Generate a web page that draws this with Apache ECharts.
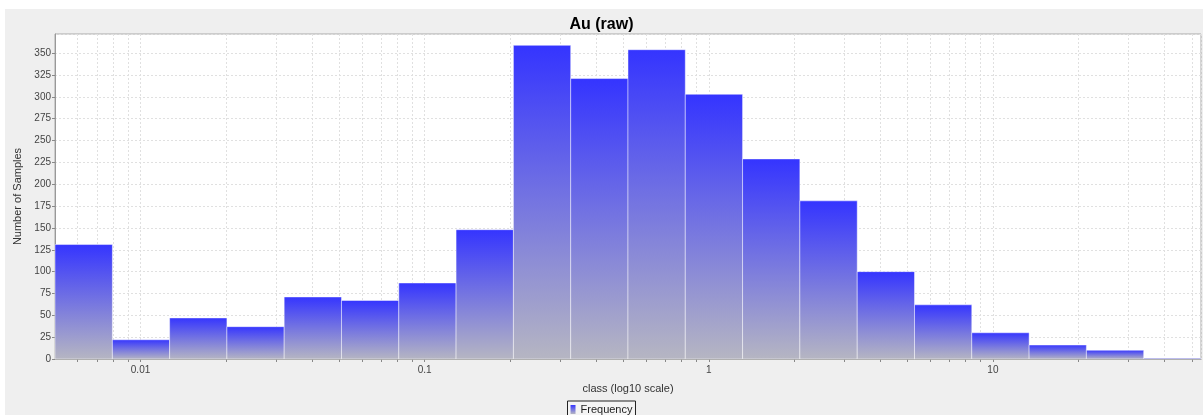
<!DOCTYPE html>
<html>
<head>
<meta charset="utf-8">
<script src="https://cdn.jsdelivr.net/npm/echarts@6/dist/echarts.min.js"></script>
<style>html,body{margin:0;padding:0;background:#fff}#c{width:1203px;height:415px}</style>
</head>
<body>
<div id="c"></div>
<script>
// Bin edges (log10-spaced classes)
const binEdges = [0.005, 0.00796, 0.01266, 0.02014, 0.03203, 0.05096, 0.0811, 0.129, 0.2053, 0.3266, 0.5196, 0.8266, 1.315, 2.092, 3.33, 5.297, 8.426, 13.41, 21.33, 33.94, 54.0];
// Frequency per bin
const counts = [131, 22, 47, 37, 71, 67, 87, 148, 359, 321, 354, 303, 229, 181, 100, 62, 30, 16, 10, 1];
// Minor tick positions on the log axis
const minorTicks = [0.006, 0.007, 0.008, 0.009, 0.02, 0.03, 0.04, 0.05, 0.06, 0.07, 0.08, 0.09, 0.2, 0.3, 0.4, 0.5, 0.6, 0.7, 0.8, 0.9, 2, 3, 4, 5, 6, 7, 8, 9, 20, 30, 40, 50];
const titleText = 'Au (raw)';
const xName = 'class (log10 scale)';
const yName = 'Number of Samples';
const seriesName = 'Frequency';

const barData = counts.map((c, i) => [binEdges[i], binEdges[i + 1], c]);
const font = '"Liberation Sans", Arial, sans-serif';

const chart = echarts.init(document.getElementById('c'), null, {renderer: 'canvas'});
const barGrad = () => new echarts.graphic.LinearGradient(0, 0, 0, 1, [
  {offset: 0, color: '#3434ff'},
  {offset: 1, color: '#b6b6c2'}
]);

chart.setOption({
  backgroundColor: '#ffffff',
  animation: false,
  graphic: [{type: 'rect', left: 5, top: 9, z: -10, shape: {width: 1198, height: 406}, style: {fill: '#efefef'}}],
  title: {
    text: titleText, left: 'center', top: 12,
    textStyle: {fontFamily: font, fontSize: 16, fontWeight: 'bold', color: '#000'}
  },
  legend: {
    data: [{name: seriesName, icon: 'rect'}], bottom: -6, left: 'center',
    itemWidth: 5, itemHeight: 9, itemGap: 4,
    borderColor: '#222', borderWidth: 1, padding: [3, 3, 6, 3],
    backgroundColor: '#f4f4f4',
    textStyle: {fontFamily: font, fontSize: 11, color: '#222'}
  },
  grid: {left: 55, right: 2, top: 34, bottom: 56, show: true, backgroundColor: '#fff', borderColor: '#a8a8a8', borderWidth: 1},
  xAxis: {
    type: 'log', logBase: 10, min: binEdges[0], max: binEdges[binEdges.length - 1],
    name: xName, nameLocation: 'middle', nameGap: 24,
    nameTextStyle: {fontFamily: font, fontSize: 11, color: '#333'},
    axisLine: {show: true, lineStyle: {color: '#999'}},
    axisTick: {show: true, length: 3, lineStyle: {color: '#888'}},
    axisLabel: {fontFamily: font, fontSize: 10, color: '#444', margin: 6, showMinLabel: false, showMaxLabel: false,
      formatter: v => String(+v.toPrecision(6))},
    splitLine: {show: true, lineStyle: {color: '#e0e0e0', type: [2, 2]}}
  },
  yAxis: {
    type: 'value', min: 0, max: 372, interval: 25,
    name: yName, nameLocation: 'middle', nameGap: 28, nameRotate: 90,
    nameTextStyle: {fontFamily: font, fontSize: 11, color: '#333'},
    axisLine: {show: true, lineStyle: {color: '#999'}},
    axisTick: {show: true, length: 3, lineStyle: {color: '#888'}},
    axisLabel: {fontFamily: font, fontSize: 10, color: '#444', margin: 4, showMaxLabel: false},
    splitLine: {show: true, lineStyle: {color: '#e0e0e0', type: [2, 2]}}
  },
  series: [
    {
      type: 'custom', name: 'minor', silent: true, z: 1, legendHoverLink: false,
      data: minorTicks.map(v => [v]),
      encode: {x: 0},
      clip: false,
      renderItem: (params, api) => {
        const x = Math.round(api.coord([api.value(0), 0])[0]) + 0.5;
        const cs = params.coordSys;
        return {type: 'group', children: [
          {type: 'line', shape: {x1: x, y1: cs.y, x2: x, y2: cs.y + cs.height}, style: {stroke: '#e0e0e0', lineWidth: 1, lineDash: [2, 2]}},
          {type: 'line', shape: {x1: x, y1: cs.y + cs.height, x2: x, y2: cs.y + cs.height + 3}, style: {stroke: '#888', lineWidth: 1}}
        ]};
      }
    },
    {
      type: 'custom', name: seriesName, z: 3,
      itemStyle: {color: barGrad()},
      data: barData,
      encode: {x: [0, 1], y: 2},
      renderItem: (params, api) => {
        const p1 = api.coord([api.value(0), api.value(2)]);
        const p2 = api.coord([api.value(1), 0]);
        return {
          type: 'rect',
          shape: {x: p1[0], y: p1[1], width: p2[0] - p1[0], height: p2[1] - p1[1]},
          style: {fill: barGrad(), stroke: 'rgba(255,255,255,0.45)', lineWidth: 1}
        };
      }
    }
  ]
});
</script>
</body>
</html>
